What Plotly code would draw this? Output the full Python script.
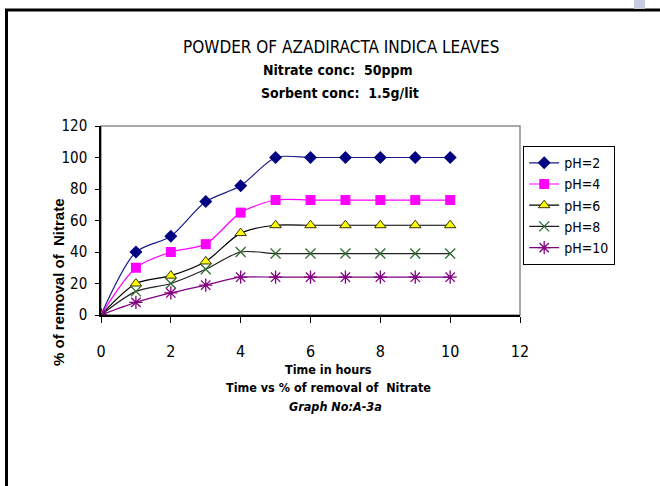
import plotly.graph_objects as go

# Sampling times (hours) and % nitrate removal for each pH
time_h = [0, 1, 2, 3, 4, 5, 6, 7, 8, 9, 10]
ph2 = [0, 40, 50, 72, 82, 100, 100, 100, 100, 100, 100]
ph4 = [0, 30, 40, 45, 65, 73, 73, 73, 73, 73, 73]
ph6 = [0, 20, 25, 34, 52, 57, 57, 57, 57, 57, 57]
ph8 = [0, 15, 20, 29, 40, 39, 39, 39, 39, 39, 39]
ph10 = [0, 8, 14, 19, 24, 24, 24, 24, 24, 24, 24]
series_names = ["pH=2", "pH=4", "pH=6", "pH=8", "pH=10"]
x_ticks = [0, 2, 4, 6, 8, 10, 12]
y_ticks = [0, 20, 40, 60, 80, 100, 120]

W, H = 660, 486
L, R, T, B = 101, 140, 126, 171
PW, PH = W - L - R, H - T - B

NARROW = "Liberation Sans Narrow, Arial Narrow, DejaVu Sans Condensed, sans-serif"


def px(xp):
    return (xp - L) / PW


def py(yp):
    return (H - B - yp) / PH


styles = [
    dict(line=dict(color="#1a1a8c", width=1.2),
         marker=dict(symbol="diamond", size=10, color="#000080")),
    dict(line=dict(color="#ff00ff", width=1.2),
         marker=dict(symbol="square", size=10, color="#ff00ff")),
    dict(line=dict(color="#000000", width=1.2),
         marker=dict(symbol="triangle-up", size=10, color="#ffff00",
                     line=dict(color="#333300", width=1))),
    dict(line=dict(color="#222222", width=1.2),
         marker=dict(symbol="x-thin-open", size=10, color="#2f6b2f",
                     line=dict(color="#2f6b2f", width=1.3))),
    dict(line=dict(color="#800080", width=1.2),
         marker=dict(symbol="asterisk-open", size=11, color="#800080",
                     line=dict(color="#800080", width=1.3))),
]

fig = go.Figure()
for name, vals, st in zip(series_names, [ph2, ph4, ph6, ph8, ph10], styles):
    fig.add_trace(go.Scatter(
        x=time_h, y=vals, name=name, mode="lines+markers",
        line=dict(shape="spline", smoothing=0.8, **st["line"]),
        marker=st["marker"],
    ))

shapes = [
    # plot area border (grey top and right)
    dict(type="rect", xref="paper", yref="paper", x0=0, x1=1, y0=0, y1=1,
         line=dict(color="#8c8c8c", width=1.5), layer="below"),
    # outer frame: top and left edges
    dict(type="line", xref="paper", yref="paper", x0=px(5), x1=px(665),
         y0=py(10), y1=py(10), line=dict(color="#000000", width=3)),
    dict(type="line", xref="paper", yref="paper", x0=px(6.5), x1=px(6.5),
         y0=py(9), y1=py(490), line=dict(color="#000000", width=3)),
    # small tab at the top right
    dict(type="rect", xref="paper", yref="paper", x0=px(634), x1=px(645),
         y0=py(-2), y1=py(9), fillcolor="#c9cde0", line=dict(width=0)),
]

annotations = [
    dict(text="POWDER OF AZADIRACTA INDICA LEAVES", x=px(341), y=py(47),
         font=dict(size=17, family=NARROW, color="#000")),
    dict(text="<b>Nitrate conc:  50ppm</b>", x=px(338), y=py(70),
         font=dict(size=14, family=NARROW, color="#000")),
    dict(text="<b>Sorbent conc:  1.5g/lit</b>", x=px(340), y=py(93),
         font=dict(size=14, family=NARROW, color="#000")),
    dict(text="<b>Time in hours</b>", x=px(328), y=py(369),
         font=dict(size=12.5, family=NARROW, color="#000")),
    dict(text="<b>Time vs % of removal of  Nitrate</b>", x=px(328), y=py(387),
         font=dict(size=12.5, family=NARROW, color="#000")),
    dict(text="<b><i>Graph No:A-3a</i></b>", x=px(335), y=py(406),
         font=dict(size=12.5, family=NARROW, color="#000")),
    dict(text="<b>% of removal of  Nitrate</b>", x=px(58), y=py(282),
         textangle=-90, font=dict(size=15, family="Liberation Sans, Arial, sans-serif", color="#000")),
]
for a in annotations:
    a.update(xref="paper", yref="paper", showarrow=False,
             xanchor="center", yanchor="middle")

fig.update_layout(
    width=W, height=H,
    margin=dict(l=L, r=R, t=T, b=B),
    paper_bgcolor="#ffffff", plot_bgcolor="#ffffff",
    showlegend=True,
    legend=dict(x=px(523), y=py(146), xanchor="left", yanchor="top",
                bordercolor="#000000", borderwidth=1.2, bgcolor="#ffffff",
                font=dict(size=14, family=NARROW, color="#000"),
                itemwidth=30, tracegroupgap=0),
    shapes=shapes,
    annotations=annotations,
    xaxis=dict(range=[0, 12], tickvals=x_ticks, showgrid=False, zeroline=False,
               showline=True, linecolor="#000000", linewidth=1.5,
               ticks="outside", ticklen=6, tickcolor="#000", tickwidth=1.2,
               ticklabelstandoff=15,
               tickfont=dict(size=16, family=NARROW, color="#000")),
    yaxis=dict(range=[0, 120], tickvals=y_ticks, showgrid=False, zeroline=False,
               showline=True, linecolor="#000000", linewidth=1.5,
               ticks="outside", ticklen=4, tickcolor="#000", tickwidth=1.2,
               ticklabelstandoff=5,
               tickfont=dict(size=15, family=NARROW, color="#000")),
)

fig.write_html("out.html")
